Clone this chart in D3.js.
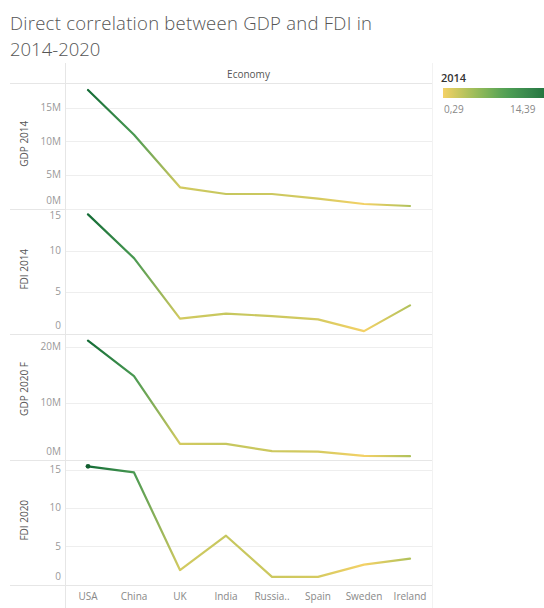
<!DOCTYPE html>
<html>
<head>
<meta charset="utf-8">
<script src="https://cdn.jsdelivr.net/npm/d3@7"></script>
<style>
  html, body { margin: 0; padding: 0; background: #fff; }
  svg { display: block; }
  text { font-family: "Open Sans", "Noto Sans", sans-serif; }
</style>
</head>
<body>
<svg id="chart" width="544" height="608"></svg>
<script>
// Economies along the x axis
const economies = ["USA", "China", "UK", "India", "Russian Federation", "Spain", "Sweden", "Ireland"];

// GDP in millions of US$
const gdp2014 = [17.7, 11.0, 3.1, 2.1, 2.1, 1.4, 0.6, 0.3];
const gdp2020 = [21.1, 14.8, 2.7, 2.7, 1.4, 1.3, 0.55, 0.5];

// FDI (net inflows)
const fdi2014 = [14.39, 9.1, 1.8, 2.4, 2.1, 1.7, 0.29, 3.4];
const fdi2020 = [15.5, 14.7, 1.9, 6.4, 1.0, 1.0, 2.6, 3.4];

// Axis ticks for each row
const gdp2014Ticks = [0, 5, 10, 15];
const fdi2014Ticks = [0, 5, 10, 15];
const gdp2020Ticks = [0, 10, 20];
const fdi2020Ticks = [0, 5, 10, 15];

// Colour legend range (FDI 2014)
const legendRange = [0.29, 14.39];
const greenGold = ["#f4d166", "#d5ca60", "#b6c35c", "#98bb59", "#7cb257", "#60a656",
                   "#4b9c53", "#3f8f4f", "#33834a", "#257740", "#146c36"];

const rows = [
  { title: "GDP 2014",   values: gdp2014, ticks: gdp2014Ticks, max: 18.75, fmt: d => d + "M" },
  { title: "FDI 2014",   values: fdi2014, ticks: fdi2014Ticks, max: 15.1,  fmt: d => String(d) },
  { title: "GDP 2020 F", values: gdp2020, ticks: gdp2020Ticks, max: 22.3,  fmt: d => d + "M" },
  { title: "FDI 2020",   values: fdi2020, ticks: fdi2020Ticks, max: 16.4,  fmt: d => String(d) }
];

const svg = d3.select("#chart");
const gridCol = "#e6e6e6";
const plotL = 65, plotR = 432, plotT = 83, rowH = 125.5;
const outerL = 10;

const color = d3.scaleSequential(d3.interpolateRgbBasis(greenGold)).domain(legendRange);

// Title
const title = svg.append("g").attr("fill", "#555").style("font-size", "18.5px").style("font-weight", 300);
title.append("text").attr("x", 10).attr("y", 30).attr("textLength", 362).attr("lengthAdjust", "spacing")
  .text("Direct correlation between GDP and FDI in");
title.append("text").attr("x", 10).attr("y", 55.5).text("2014-2020");

// Column header
svg.append("text").attr("x", (plotL + plotR) / 2).attr("y", 78)
  .attr("text-anchor", "middle").attr("fill", "#555").style("font-size", "10px").text("Economy");

const x = d3.scaleBand().domain(economies).range([plotL, plotR + 1]);

const defs = svg.append("defs");

rows.forEach((row, r) => {
  const y0 = plotT + r * rowH, y1 = y0 + rowH;
  const y = d3.scaleLinear().domain([0, row.max]).range([y1 - 0.5, y0]);
  const g = svg.append("g");

  // gridlines
  g.selectAll("line.grid").data(row.ticks.filter(t => t > 0)).join("line")
    .attr("x1", plotL).attr("x2", plotR)
    .attr("y1", d => Math.round(y(d)) + 0.5).attr("y2", d => Math.round(y(d)) + 0.5)
    .attr("stroke", "#eeeeee");

  // tick labels, kept inside the row
  const axis = d3.axisLeft(y).tickValues(row.ticks).tickFormat(row.fmt).tickSize(0).tickPadding(4);
  const ag = g.append("g").attr("transform", `translate(${plotL},0)`).call(axis);
  ag.select(".domain").remove();
  ag.selectAll(".tick").attr("transform", d => {
    const yy = Math.min(Math.max(y(d), y0 + 7), y1 - 8);
    return `translate(0,${yy})`;
  });
  ag.selectAll("text").attr("fill", "#999").style("font-size", "10px")
    .style("font-family", '"Open Sans", sans-serif');

  // row title
  g.append("text")
    .attr("transform", `translate(28,${r === 2 ? y0 + 55 : (y0 + y1) / 2 - 2}) rotate(-90)`)
    .attr("text-anchor", "middle").attr("fill", "#555").style("font-size", "10px")
    .text(row.title);

  // line coloured by FDI 2014 of each economy
  const gid = "grad" + r;
  const xs = economies.map(e => x(e) + x.bandwidth() / 2);
  const grad = defs.append("linearGradient").attr("id", gid)
    .attr("gradientUnits", "userSpaceOnUse")
    .attr("x1", xs[0]).attr("x2", xs[xs.length - 1]).attr("y1", 0).attr("y2", 0);
  grad.selectAll("stop").data(fdi2014).join("stop")
    .attr("offset", (d, i) => (xs[i] - xs[0]) / (xs[xs.length - 1] - xs[0]))
    .attr("stop-color", d => color(d));

  const line = d3.line().x((d, i) => xs[i]).y(d => y(d));
  g.append("path").datum(row.values)
    .attr("d", line).attr("fill", "none")
    .attr("stroke", `url(#${gid})`).attr("stroke-width", 2.2)
    .attr("stroke-linejoin", "round").attr("stroke-linecap", "round");

  if (r === 3) {
    g.selectAll("circle").data(row.values.slice(0, 1)).join("circle")
      .attr("cx", (d, i) => xs[i]).attr("cy", d => y(d)).attr("r", 2.4)
      .attr("fill", (d, i) => d3.color(color(fdi2014[i])).darker(0.4));
  }

  // row separator
  svg.append("line").attr("x1", outerL).attr("x2", plotR)
    .attr("y1", Math.round(y1) + 0.5).attr("y2", Math.round(y1) + 0.5).attr("stroke", gridCol);
});

// top border of the rows and vertical dividers
svg.append("line").attr("x1", outerL).attr("x2", plotR).attr("y1", plotT + 0.5).attr("y2", plotT + 0.5).attr("stroke", gridCol);
svg.append("line").attr("x1", plotL + 0.5).attr("x2", plotL + 0.5).attr("y1", 63).attr("y2", 608).attr("stroke", gridCol);
svg.append("line").attr("x1", plotR + 0.5).attr("x2", plotR + 0.5).attr("y1", 63).attr("y2", 608).attr("stroke", "#f2f2f2");

// x axis labels
const plotB = plotT + 4 * rowH;
const xa = svg.append("g").attr("transform", `translate(0,${plotB})`)
  .call(d3.axisBottom(x).tickSize(0).tickPadding(8)
    .tickFormat(d => d.length > 8 ? d.slice(0, 6) + ".." : d));
xa.select(".domain").remove();
xa.selectAll("text").attr("fill", "#888").style("font-size", "10px")
  .style("font-family", '"Open Sans", sans-serif');

// Colour legend
const lg = svg.append("g");
lg.append("text").attr("x", 441).attr("y", 82).attr("fill", "#333")
  .style("font-size", "11px").style("font-weight", 600).text("2014");
const lgrad = defs.append("linearGradient").attr("id", "legendGrad");
lgrad.selectAll("stop").data(greenGold).join("stop")
  .attr("offset", (d, i) => i / (greenGold.length - 1)).attr("stop-color", d => d);
lg.append("rect").attr("x", 443).attr("y", 88).attr("width", 112).attr("height", 10)
  .attr("fill", "url(#legendGrad)");
const fmtComma = d => d3.format(".2f")(d).replace(".", ",");
lg.append("text").attr("x", 444).attr("y", 113).attr("fill", "#888").style("font-size", "10px")
  .text(fmtComma(legendRange[0]));
lg.append("text").attr("x", 510).attr("y", 113).attr("fill", "#888").style("font-size", "10px")
  .text(fmtComma(legendRange[1]));
</script>
</body>
</html>
